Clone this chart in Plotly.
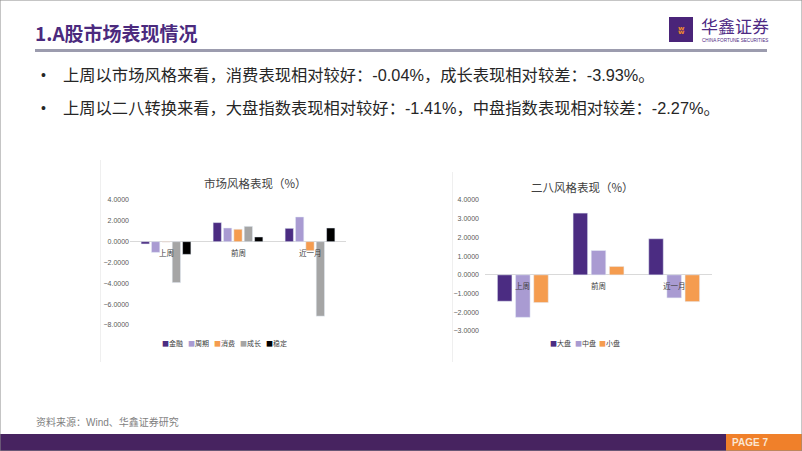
import plotly.graph_objects as go

# data
periods = ["上周", "前周", "近一月"]

style_names = ["金融", "周期", "消费", "成长", "稳定"]
style_vals = [
    [-0.22, 1.83, 1.28],   # 金融
    [-1.03, 1.31, 2.37],   # 周期
    [-0.04, 1.19, -0.87],  # 消费
    [-3.93, 1.47, -7.15],  # 成长
    [-1.22, 0.45, 1.31],   # 稳定
]
style_colors = ["#4B2C82", "#A99BD2", "#F59C4F", "#A5A5A5", "#000000"]

size_names = ["大盘", "中盘", "小盘"]
size_vals = [
    [-1.41, 3.30, 1.93],   # 大盘
    [-2.27, 1.30, -1.23],  # 中盘
    [-1.48, 0.45, -1.43],  # 小盘
]
size_colors = ["#4B2C82", "#A99BD2", "#F59C4F"]

left_ticks = [4, 2, 0, -2, -4, -6, -8]
right_ticks = [4, 3, 2, 1, 0, -1, -2, -3]

W, H = 802, 451
FONT = "Liberation Sans, Noto Sans CJK SC"
CJK = "Noto Sans CJK SC"


def px(x):
    return x / W


def py(y):
    return 1 - y / H


fig = go.Figure()


def label(x, y, s, size, color, family=CJK, xanchor="left"):
    # paper text placed by slide pixels
    fig.add_annotation(x=px(x), y=py(y), xref="paper", yref="paper", text=s,
                       xanchor=xanchor, yanchor="middle", showarrow=False,
                       font=dict(family=family, size=size, color=color))


def box(x0, x1, y0, y1, color):
    fig.add_shape(type="rect", xref="paper", yref="paper", x0=px(x0), x1=px(x1),
                  y0=py(y1), y1=py(y0), line=dict(width=0), fillcolor=color,
                  layer="above")


for name, vals, col in zip(style_names, style_vals, style_colors):
    fig.add_trace(go.Bar(x=periods, y=vals, name=name, marker_color=col,
                         xaxis="x", yaxis="y", showlegend=False))

for name, vals, col in zip(size_names, size_vals, size_colors):
    fig.add_trace(go.Bar(x=periods, y=vals, name=name, marker_color=col,
                         xaxis="x2", yaxis="y2", showlegend=False))

axis_font = dict(family=FONT, size=7, color="#595959")

fig.update_layout(
    width=W, height=H,
    margin=dict(l=0, r=0, t=0, b=0, autoexpand=False),
    paper_bgcolor="white", plot_bgcolor="rgba(0,0,0,0)",
    barmode="group", bargap=0.28, bargroupgap=0.2,
    font=dict(family=FONT),
    showlegend=False,
    xaxis=dict(domain=[px(130), px(346)], anchor="y", showticklabels=False,
               showgrid=False, zeroline=False, showline=False),
    yaxis=dict(domain=[py(325), py(200)], range=[-8, 4], tickvals=left_ticks,
               anchor="x", tickformat=".4f", tickfont=axis_font, showgrid=False,
               zeroline=True, zerolinecolor="#D9D9D9", zerolinewidth=1,
               showline=False, ticks="", automargin=False),
    xaxis2=dict(domain=[px(485), px(712)], anchor="y2", showticklabels=False,
                showgrid=False, zeroline=False, showline=False),
    yaxis2=dict(domain=[py(331), py(200)], range=[-3, 4], tickvals=right_ticks,
                anchor="x2", tickformat=".4f", tickfont=axis_font, showgrid=False,
                zeroline=True, zerolinecolor="#D9D9D9", zerolinewidth=1,
                showline=False, ticks="", automargin=False, ticklabelstandoff=5),
)

# category labels sit on the zero line like in Excel
for p in periods:
    for xr, yr in (("x", "y"), ("x2", "y2")):
        fig.add_annotation(x=p, y=0, xref=xr, yref=yr, text=p, showarrow=False,
                           xanchor="center", yanchor="top", yshift=-3,
                           font=dict(family=CJK, size=7.5, color="#404040"))

# legends drawn as rows of coloured squares
for i, (n, c) in enumerate(zip(style_names, style_colors)):
    label(160 + i * 26, 343, f"<span style='color:{c}'>■</span>{n}", 7, "#404040")
for i, (n, c) in enumerate(zip(size_names, size_colors)):
    label(548 + i * 24.5, 343, f"<span style='color:{c}'>■</span>{n}", 7, "#404040")

# chart titles
label(255, 183, "市场风格表现（%）", 11.5, "#404040", xanchor="center")
label(582, 187, "二八风格表现（%）", 11.5, "#404040", xanchor="center")

# slide header
label(33, 33, "<b>1.A股市场表现情况</b>", 19, "#4B2A7E")
box(35, 767, 49, 52, "#9C9CAE")

# logo
box(669, 693, 17, 42, "#4A2479")
label(681, 30, "<b>ʬ</b>", 11, "#F08A2C", family="DejaVu Sans", xanchor="center")
label(699, 26, "华鑫证券", 17, "#4E2A84")
label(700, 40, "CHINA FORTUNE SECURITIES", 4.6, "#4E2A84", family="Liberation Sans")

# bullet points
bullets = [
    "上周以市场风格来看，消费表现相对较好：-0.04%，成长表现相对较差：-3.93%。",
    "上周以二八转换来看，大盘指数表现相对较好：-1.41%，中盘指数表现相对较差：-2.27%。",
]
for i, b in enumerate(bullets):
    yy = 75 + i * 33
    label(39, yy, "•", 14, "#262626", family="Liberation Sans")
    label(61, yy, b, 16.3, "#262626", family=FONT)

# faint chart frame edges
box(100, 101, 160, 362, "#EFEFEF")
box(452, 453, 172, 362, "#EFEFEF")

# footer
label(34, 422, "资料来源：Wind、华鑫证券研究", 10, "#7F7F7F", family=FONT)
box(0, 726, 434, 451, "#472360")
box(726, 802, 434, 451, "#F0802A")
label(750, 442, "<b>PAGE 7</b>", 10, "#FBE6D2", family="Liberation Sans", xanchor="center")

# thin slide border
fig.add_shape(type="rect", xref="paper", yref="paper", x0=0, x1=1, y0=0, y1=1,
              line=dict(color="#8C8C8C", width=1))

fig.write_html("out.html", config={"displayModeBar": False},
               post_script="document.body.style.margin='0';")
